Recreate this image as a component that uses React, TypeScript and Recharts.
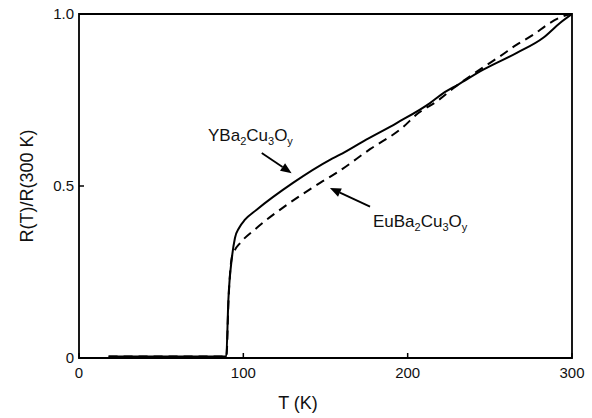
import { LineChart, Line, XAxis, YAxis, ReferenceArea, ReferenceLine, ReferenceDot } from "recharts";

// temperature (K) and normalised resistance
const ybaTemp = [18, 89.6, 90.9, 93.0, 94.9, 97.4, 101.0, 108.1, 130.2, 152.7, 158.8, 173.0, 193.3, 213.6, 221.7, 230.8, 246.0, 266.4, 282.5, 292.7, 300];
const ybaRatio = [0.004, 0.004, 0.169, 0.29, 0.349, 0.378, 0.402, 0.431, 0.509, 0.576, 0.591, 0.63, 0.683, 0.741, 0.77, 0.795, 0.838, 0.887, 0.931, 0.974, 1.0];

const euTemp = [18, 89.7, 91.0, 92.9, 95.0, 98.0, 108.1, 126.4, 146.7, 157.6, 177.1, 196.4, 206.5, 217.7, 228.0, 246.0, 256.2, 266.4, 276.5, 286.6, 297.6, 300];
const euRatio = [0.004, 0.004, 0.17, 0.29, 0.315, 0.334, 0.378, 0.445, 0.509, 0.541, 0.607, 0.668, 0.712, 0.746, 0.785, 0.845, 0.877, 0.911, 0.94, 0.974, 0.998, 1.0];

const X_TICKS = [0, 100, 200, 300];
const Y_TICKS = [0, 0.5, 1.0];
const Y_TICK_LABELS = ["0", "0.5", "1.0"];

// arrows: [tail T, tail R, head T, head R]
const ybaArrow = [111.2, 0.596, 129.4, 0.537];
const euArrow = [177.1, 0.44, 152.7, 0.494];
const ybaLabelPos = [78.5, 0.63];
const euLabelPos = [178.9, 0.382];

const ybaData = ybaTemp.map((t, i) => ({ t, r: ybaRatio[i] }));
const euData = euTemp.map((t, i) => ({ t, r: euRatio[i] }));

const FONT = "'Liberation Sans', Arial, sans-serif";

const XTick = (props: any) => {
  const { x, y, payload } = props;
  return (
    <g>
      <line x1={x} y1={y} x2={x} y2={y - 5} stroke="#000" strokeWidth={1.5} />
      <text x={x} y={y + 20} textAnchor="middle" fontSize={15} fontFamily={FONT} fill="#111">
        {payload.value}
      </text>
    </g>
  );
};

const YTick = (props: any) => {
  const { x, y, payload } = props;
  const idx = Y_TICKS.indexOf(payload.value);
  return (
    <g>
      <line x1={x} y1={y} x2={x + 5} y2={y} stroke="#000" strokeWidth={1.5} />
      <text x={x - 5} y={y + 5} textAnchor="end" fontSize={15} fontFamily={FONT} fill="#111">
        {Y_TICK_LABELS[idx]}
      </text>
    </g>
  );
};

const Arrow = (props: any) => {
  const { x1, y1, x2, y2 } = props;
  const dx = x2 - x1;
  const dy = y2 - y1;
  const len = Math.sqrt(dx * dx + dy * dy);
  const ux = dx / len;
  const uy = dy / len;
  const head = 11;
  const half = 4.5;
  const bx = x2 - ux * head;
  const by = y2 - uy * head;
  return (
    <g>
      <line x1={x1} y1={y1} x2={bx} y2={by} stroke="#000" strokeWidth={1.8} />
      <polygon
        points={`${x2},${y2} ${bx - uy * half},${by + ux * half} ${bx + uy * half},${by - ux * half}`}
        fill="#000"
      />
    </g>
  );
};

const formula = (prefix: string) => (p: any) => (
  <text x={p.cx} y={p.cy} fontSize={17} fontFamily={FONT} fill="#111">
    {prefix}
    <tspan fontSize={11} dy={4}>2</tspan>
    <tspan dy={-4}>Cu</tspan>
    <tspan fontSize={11} dy={4}>3</tspan>
    <tspan dy={-4}>O</tspan>
    <tspan fontSize={11} dy={4}>y</tspan>
  </text>
);

export default function App() {
  return (
    <div style={{ position: "absolute", left: 0, top: 0, background: "#fff" }}>
      <LineChart width={592} height={418} margin={{ top: 14, right: 20, bottom: 15, left: 19 }}>
        <XAxis
          type="number"
          dataKey="t"
          domain={[0, 300]}
          ticks={X_TICKS}
          height={45}
          axisLine={false}
          tickLine={false}
          tickSize={0}
          tickMargin={0}
          tick={XTick}
          allowDataOverflow
          label={(p: any) => (
            <text x={298} y={p.viewBox.y + 51} textAnchor="middle" fontSize={18} fontFamily={FONT} fill="#111">
              T (K)
            </text>
          )}
        />
        <YAxis
          type="number"
          domain={[0, 1]}
          ticks={Y_TICKS}
          width={60}
          axisLine={false}
          tickLine={false}
          tickSize={0}
          tickMargin={0}
          tick={YTick}
          allowDataOverflow
          label={(p: any) => {
            const cx = p.viewBox.x + 8;
            const cy = p.viewBox.y + p.viewBox.height / 2;
            return (
              <text
                x={cx}
                y={cy}
                transform={`rotate(-90, ${cx}, ${cy})`}
                textAnchor="middle"
                dominantBaseline="central"
                fontSize={18}
                fontFamily={FONT}
                fill="#111"
              >
                R(T)/R(300 K)
              </text>
            );
          }}
        />
        <ReferenceArea x1={0} x2={300} y1={0} y2={1} fill="none" stroke="#000" strokeWidth={1.8} fillOpacity={0} />
        <Line
          data={euData}
          dataKey="r"
          type="monotone"
          stroke="#000"
          strokeWidth={2}
          strokeDasharray="9 6"
          dot={false}
          isAnimationActive={false}
        />
        <Line
          data={ybaData}
          dataKey="r"
          type="monotone"
          stroke="#000"
          strokeWidth={2}
          dot={false}
          isAnimationActive={false}
        />
        <ReferenceLine
          segment={[
            { x: ybaArrow[0], y: ybaArrow[1] },
            { x: ybaArrow[2], y: ybaArrow[3] },
          ]}
          shape={Arrow}
        />
        <ReferenceLine
          segment={[
            { x: euArrow[0], y: euArrow[1] },
            { x: euArrow[2], y: euArrow[3] },
          ]}
          shape={Arrow}
        />
        <ReferenceDot x={ybaLabelPos[0]} y={ybaLabelPos[1]} r={0} shape={formula("YBa")} />
        <ReferenceDot x={euLabelPos[0]} y={euLabelPos[1]} r={0} shape={formula("EuBa")} />
      </LineChart>
    </div>
  );
}
